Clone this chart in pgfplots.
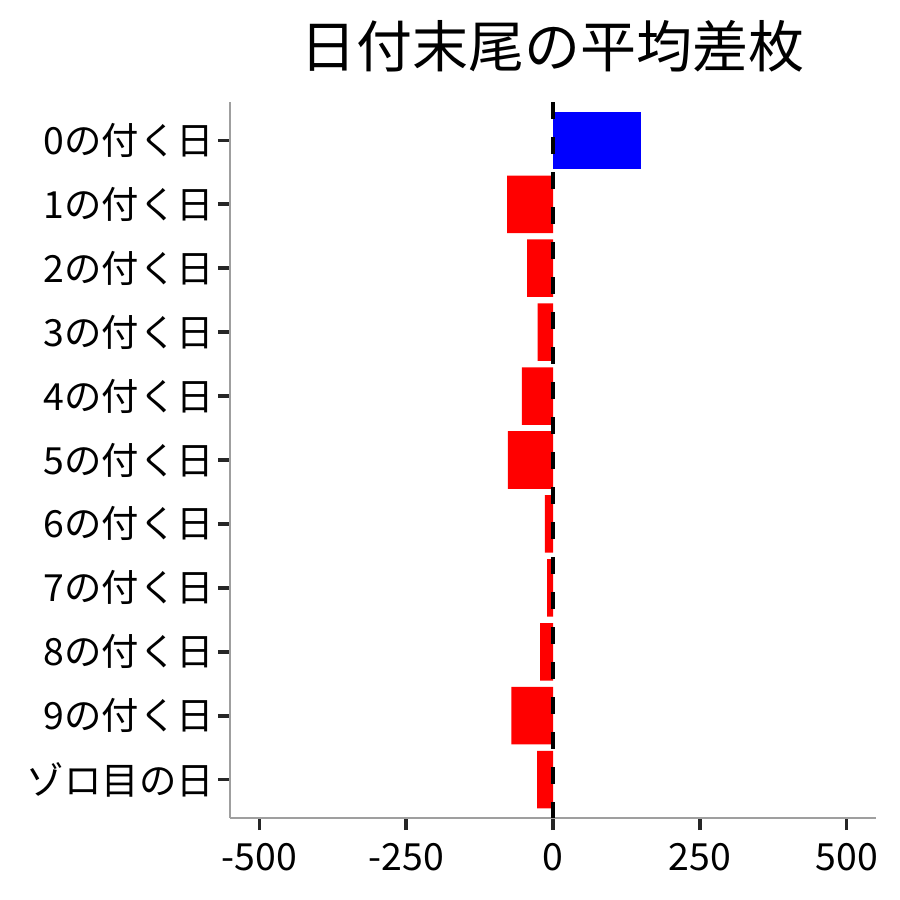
\documentclass[border=0pt]{standalone}
\usepackage{pgfplots}
\pgfplotsset{compat=1.18}
\usepackage{fontspec}
\setmainfont{Noto Sans CJK JP}
\begin{document}
\begin{tikzpicture}
\path[use as bounding box] (0,0) rectangle (450pt,450pt);
\node[font=\fontsize{28}{32}\selectfont, anchor=center] at (276pt,427pt) {日付末尾の平均差枚};
\begin{axis}[
    at={(115pt,41pt)}, anchor=south west,
    scale only axis,
    width=323pt, height=358pt,
    xmin=-550, xmax=550,
    ymin=-0.6, ymax=10.6,
    y dir=reverse,
    xtick={-500,-250,0,250,500},
    xticklabels={-500,-250,0,250,500},
    ytick={0,...,10},
    yticklabels={0の付く日,1の付く日,2の付く日,3の付く日,4の付く日,5の付く日,6の付く日,7の付く日,8の付く日,9の付く日,ゾロ目の日},
    axis x line*=bottom, axis y line*=left,
    axis line style={gray!75, line width=0.6pt, -},
    tick align=outside,
    major tick length=6pt,
    every major tick/.append style={draw=black!85, line width=1.8pt},
    ticklabel style={font=\fontsize{18.7}{21}\selectfont, text=black},
    xticklabel style={yshift=-3pt},
    yticklabel style={xshift=1.5pt},
]
\addplot[xbar, bar width=0.9, bar shift=0pt, draw=none, fill={rgb,255:red,0;green,0;blue,255}] coordinates {(150,0)};
\addplot[xbar, bar width=0.9, bar shift=0pt, draw=none, fill={rgb,255:red,255;green,0;blue,0}] coordinates {
    (-78,1) (-44,2) (-26,3) (-53,4) (-77,5) (-14,6) (-10,7) (-22,8) (-71,9) (-27,10)};
\addplot[sharp plot, no marks, black, line width=2pt, dash pattern=on 8.5pt off 9pt] coordinates {(0,-0.6) (0,10.6)};
\end{axis}
\end{tikzpicture}
\end{document}
